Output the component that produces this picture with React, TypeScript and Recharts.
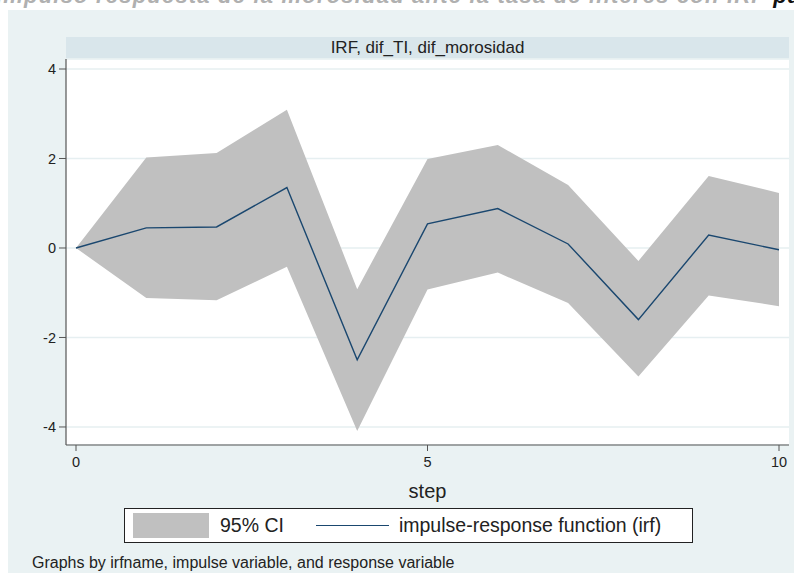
import React from "react";
import { ComposedChart, Area, Line, XAxis, YAxis, CartesianGrid } from "recharts";

const steps = [0, 1, 2, 3, 4, 5, 6, 7, 8, 9, 10];
const irf = [0, 0.45, 0.47, 1.35, -2.5, 0.54, 0.88, 0.09, -1.6, 0.29, -0.04];
const ciLower = [0, -1.12, -1.17, -0.42, -4.09, -0.93, -0.55, -1.23, -2.87, -1.06, -1.3];
const ciUpper = [0, 2.02, 2.12, 3.09, -0.92, 1.99, 2.3, 1.41, -0.29, 1.61, 1.23];
const xTicks = [0, 5, 10];
const yTicks = [-4, -2, 0, 2, 4];

const data = steps.map((s, i) => ({
  step: s,
  irf: irf[i],
  ci: [ciLower[i], ciUpper[i]],
}));

const FONT = "'Liberation Sans', Arial, sans-serif";
const BAND = "#c0c0c0";
const NAVY = "#1a476f";

function LegendBox() {
  return (
    <div
      style={{
        position: "absolute",
        left: 124,
        top: 508,
        width: 569,
        height: 35,
        boxSizing: "border-box",
        border: "1px solid #222",
        background: "#fff",
        display: "flex",
        alignItems: "center",
        fontSize: 19.5,
        color: "#222",
      }}
    >
      <div style={{ width: 76, height: 25, background: BAND, marginLeft: 8 }} />
      <span style={{ marginLeft: 11 }}>95% CI</span>
      <div style={{ width: 73, height: 0, borderTop: `1.5px solid ${NAVY}`, marginLeft: 32 }} />
      <span style={{ marginLeft: 10 }}>impulse-response function (irf)</span>
    </div>
  );
}

export default function App() {
  return (
    <div
      style={{
        position: "absolute",
        left: 0,
        top: 0,
        width: 794,
        height: 573,
        background: "#fff",
        overflow: "hidden",
        fontFamily: FONT,
      }}
    >
      {/* caption of the source document, cut off at the top */}
      <div style={{ position: "absolute", left: 0, top: 0, width: 794, height: 9, overflow: "hidden" }}>
        <div
          style={{
            position: "absolute",
            left: -4,
            top: -17,
            whiteSpace: "nowrap",
            fontStyle: "italic",
            fontWeight: "bold",
            fontSize: 22,
            letterSpacing: 1.2,
            color: "#b0b0b0",
          }}
        >
          Impulso respuesta de la morosidad ante la tasa de interés con IRF <span style={{ color: "#111" }}>para</span>
        </div>
      </div>
      <div style={{ position: "absolute", left: 8, top: 10, right: 0, bottom: 0, background: "#eaf2f3" }} />
      <div
        style={{
          position: "absolute",
          left: 66,
          top: 37,
          width: 723,
          height: 21,
          background: "#d9e6eb",
          textAlign: "center",
          fontSize: 17,
          lineHeight: "21px",
          color: "#222",
        }}
      >
        IRF, dif_TI, dif_morosidad
      </div>
      <div style={{ position: "absolute", left: 66, top: 59, width: 723, height: 386, background: "#fff" }} />
      <div style={{ position: "absolute", left: 0, top: 0 }}>
        <ComposedChart
          width={794}
          height={573}
          data={data}
          margin={{ top: 59, right: 5, bottom: 99, left: 26 }}
        >
          <CartesianGrid horizontal vertical={false} stroke="#e6eff1" strokeWidth={1.5} />
          <XAxis
            dataKey="step"
            type="number"
            domain={[0, 10]}
            ticks={xTicks}
            padding={{ left: 10, right: 10 }}
            height={29}
            axisLine={{ stroke: "#555", strokeWidth: 1.2 }}
            tickLine={{ stroke: "#555" }}
            tickSize={6}
            tickMargin={6}
            tick={{ fill: "#222", fontSize: 14.5, fontFamily: FONT }}
            label={{ value: "step", position: "insideBottom", offset: -24, fill: "#222", fontSize: 20, fontFamily: FONT }}
          />
          <YAxis
            type="number"
            domain={[-4, 4]}
            ticks={yTicks}
            padding={{ top: 10, bottom: 14 }}
            width={40}
            axisLine={{ stroke: "#555", strokeWidth: 1.2 }}
            tickLine={{ stroke: "#555" }}
            tickSize={7}
            tickMargin={3}
            tick={{ fill: "#222", fontSize: 14.5, fontFamily: FONT }}
          />
          <Area
            dataKey="ci"
            type="linear"
            stroke="none"
            fill={BAND}
            fillOpacity={1}
            isAnimationActive={false}
            activeDot={false}
          />
          <Line
            dataKey="irf"
            type="linear"
            stroke={NAVY}
            strokeWidth={1.4}
            dot={false}
            activeDot={false}
            isAnimationActive={false}
          />
        </ComposedChart>
      </div>
      <LegendBox />
      <div
        style={{
          position: "absolute",
          left: 32,
          top: 554,
          fontSize: 16,
          color: "#222",
          whiteSpace: "nowrap",
        }}
      >
        Graphs by irfname, impulse variable, and response variable
      </div>
    </div>
  );
}
